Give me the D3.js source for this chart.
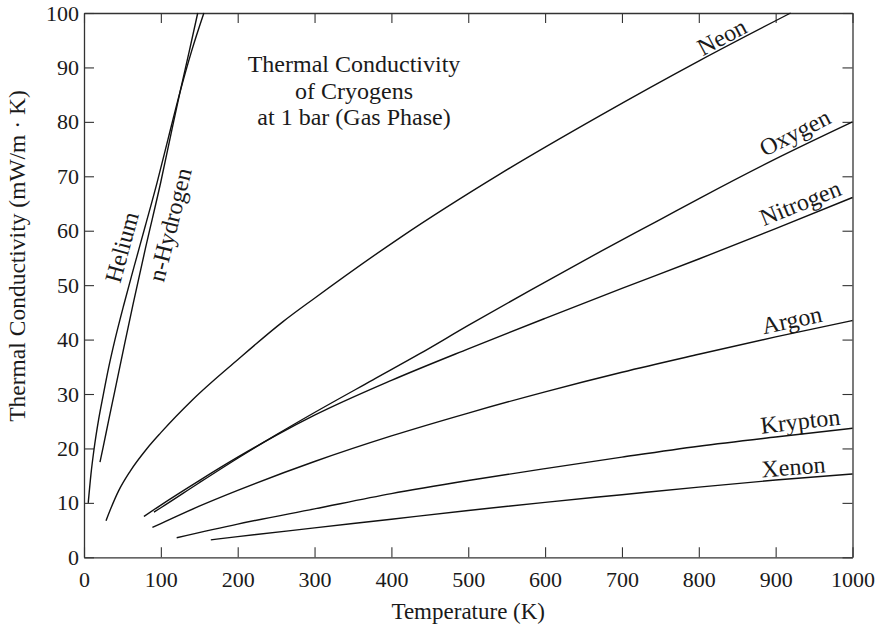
<!DOCTYPE html>
<html><head><meta charset="utf-8">
<script src="https://cdn.jsdelivr.net/npm/d3@7"></script>
<style>
body{margin:0;background:#fff}
svg{display:block}
text{font-family:"Liberation Serif","Times New Roman",Times,serif;fill:#1a1a1a}
</style>
</head><body>
<svg id="chart" width="890" height="635"></svg>
<script>
// ---- data (Temperature K, thermal conductivity mW/m·K) ----
const xTicks = [0,100,200,300,400,500,600,700,800,900,1000];
const yTicks = [0,10,20,30,40,50,60,70,80,90,100];

const helium   = [[5.5,10],[9,15.2],[13,19.8],[19,25.3],[25,29.8],[32,34.8],[40,39.8],[52,46.5],[65,53.3],[80,61.0],[95,68.8],[110,77.2],[125,85.5],[140,93.0],[156,100]];
const hydrogen = [[20.8,17.5],[25,20.3],[32,25.1],[40,30.5],[53,39.3],[64,46.6],[80,56.8],[100,69],[115,79],[125,85.5],[137,93.0],[148,100]];
const neon     = [[28.6,6.7],[35,9.0],[45,12.2],[60,15.8],[81.5,19.9],[100,22.9],[141,28.9],[200,36.3],[259,43.3],[300,47.6],[411,58.7],[541,70.4],[671,81.1],[801.6,91.3],[919.5,100]];
const oxygen   = [[91,8.3],[100,9.1],[150,13.7],[200,18.2],[250,22.5],[300,26.6],[376,32.6],[437,37.4],[500,42.6],[580,49.0],[673.6,56.3],[749,62.0],[801.6,66.0],[900,73.2],[1000,80.0]];
const nitrogen = [[78,7.5],[100,9.6],[150,14.1],[200,18.4],[250,22.4],[300,26.1],[400,32.5],[500,38.3],[600,43.9],[700,49.4],[800,54.8],[900,60.4],[1000,66.1]];
const argon    = [[89,5.5],[100,6.2],[150,9.4],[200,12.3],[300,17.6],[400,22.3],[500,26.5],[600,30.4],[700,34.0],[800,37.3],[900,40.5],[1000,43.5]];
const krypton  = [[120.6,3.6],[200,6.1],[300,8.9],[400,11.7],[500,14.1],[600,16.3],[700,18.4],[800,20.4],[900,22.1],[1000,23.7]];
const xenon    = [[165,3.2],[200,3.8],[300,5.4],[400,7.0],[500,8.6],[600,10.1],[700,11.5],[800,12.9],[900,14.2],[1000,15.3]];

const seriesNames = ["Helium","n-Hydrogen","Neon","Oxygen","Nitrogen","Argon","Krypton","Xenon"];
const seriesData  = [helium,hydrogen,neon,oxygen,nitrogen,argon,krypton,xenon];

// label anchors (data coords) and rotation
const labelAnchors = [[49.4,57.0,-75],[111.9,61.1,-76],[830,95.6,-28],[925,78,-27],[932,65.1,-22],[921,43.6,-12],[932,25,-6.5],[923,16.6,-4.5]];

const titleLines = ["Thermal Conductivity","of Cryogens","at 1 bar (Gas Phase)"];

// ---- drawing ----
const svg = d3.select("#chart");
const L = 84, R = 852.5, T = 13, B = 557.3;
const x = d3.scaleLinear().domain([0,1000]).range([L,R]);
const y = d3.scaleLinear().domain([0,100]).range([B,T]);
const fmt = d3.format("d");

function styleAxis(g, labels){
  g.attr("font-family", null).attr("font-size", null);
  g.selectAll(".domain").attr("stroke","#333").attr("stroke-width",1.3);
  g.selectAll(".tick line").attr("stroke","#333").attr("stroke-width",1.1);
  if(labels){ g.selectAll(".tick text").style("font-size","22px").attr("fill","#1a1a1a"); }
  else { g.selectAll(".tick text").remove(); }
}

svg.append("g").attr("transform",`translate(0,${B})`)
  .call(d3.axisBottom(x).tickValues(xTicks).tickFormat(fmt).tickSize(-10).tickSizeOuter(0).tickPadding(14.3))
  .call(g=>styleAxis(g,true));
svg.append("g").attr("transform",`translate(0,${T})`)
  .call(d3.axisTop(x).tickValues(xTicks).tickSize(-10).tickSizeOuter(0))
  .call(g=>styleAxis(g,false));
svg.append("g").attr("transform",`translate(${L},0)`)
  .call(d3.axisLeft(y).tickValues(yTicks).tickFormat(fmt).tickSize(-10).tickSizeOuter(0).tickPadding(5))
  .call(g=>styleAxis(g,true));
svg.append("g").attr("transform",`translate(${R},0)`)
  .call(d3.axisRight(y).tickValues(yTicks).tickSize(-10).tickSizeOuter(0))
  .call(g=>styleAxis(g,false));

const line = d3.line().x(d=>x(d[0])).y(d=>y(d[1])).curve(d3.curveMonotoneX);
svg.append("g").selectAll("path").data(seriesData).join("path")
  .attr("d", line).attr("fill","none").attr("stroke","#111").attr("stroke-width",1.4);

svg.append("g").selectAll("text").data(seriesNames).join("text")
  .attr("transform",(d,i)=>`translate(${x(labelAnchors[i][0])},${y(labelAnchors[i][1])}) rotate(${labelAnchors[i][2]})`)
  .attr("text-anchor","middle").attr("dominant-baseline","central")
  .style("font-size","24px").text(d=>d);

svg.append("g").selectAll("text").data(titleLines).join("text")
  .attr("x",354).attr("y",(d,i)=>72+i*26.5)
  .attr("text-anchor","middle").style("font-size","24px").text(d=>d);

svg.append("text").attr("x",(L+R)/2).attr("y",619).attr("text-anchor","middle")
  .style("font-size","23px").text("Temperature (K)");
svg.append("text").attr("transform",`translate(25,256) rotate(-90)`)
  .attr("text-anchor","middle").style("font-size","23.5px").text("Thermal Conductivity (mW/m · K)");
</script>
</body></html>
